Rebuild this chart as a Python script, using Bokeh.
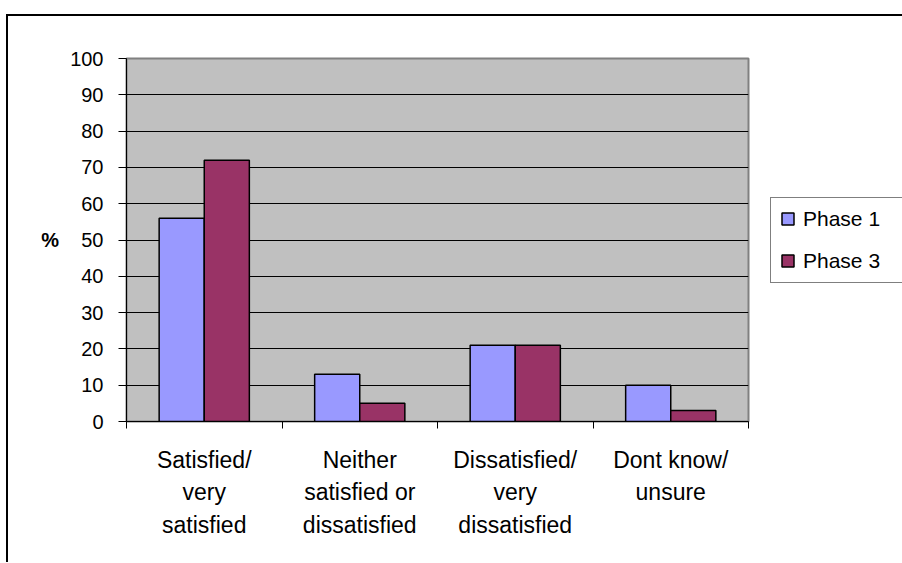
from bokeh.plotting import figure
from bokeh.models import ColumnDataSource, FixedTicker, Legend, LegendItem
from bokeh.transform import dodge
from bokeh.embed import file_html
from bokeh.resources import INLINE

# ---- data ----
categories = [
    "Satisfied/\nvery\nsatisfied",
    "Neither\nsatisfied or\ndissatisfied",
    "Dissatisfied/\nvery\ndissatisfied",
    "Dont know/\nunsure",
]
phase1 = [56, 13, 21, 10]
phase3 = [72, 5, 21, 3]
series_names = ["Phase 1", "Phase 3"]
y_ticks = [0, 10, 20, 30, 40, 50, 60, 70, 80, 90, 100]

FONT = "Liberation Sans"
centers = [i + 0.5 for i in range(len(categories))]
bounds = list(range(len(categories) + 1))
source = ColumnDataSource(dict(x=centers, p1=phase1, p3=phase3))

p = figure(
    frame_width=622, frame_height=363,
    x_range=(0, len(categories)), y_range=(0, 100),
    output_backend="svg", toolbar_location=None,
    min_border_left=118, min_border_right=146,
    min_border_top=42, min_border_bottom=141,
    background_fill_color="#C0C0C0", border_fill_color="white",
)
p.styles = {
    "margin-top": "14px",
    "margin-left": "6px",
    "border-top": "2px solid black",
    "border-left": "2px solid black",
}
p.outline_line_color = "#808080"
p.outline_line_width = 2

bw = 0.29
r1 = p.vbar(x=dodge("x", -bw / 2), top="p1", width=bw, source=source,
            fill_color="#9999FF", line_color="black", line_width=1.5)
r3 = p.vbar(x=dodge("x", bw / 2), top="p3", width=bw, source=source,
            fill_color="#993366", line_color="black", line_width=1.5)

# grid
p.xgrid.visible = False
p.ygrid.grid_line_color = "black"
p.ygrid.grid_line_width = 1

# y axis
p.yaxis.ticker = FixedTicker(ticks=y_ticks)
p.yaxis.major_tick_out = 8
p.yaxis.major_tick_in = 0
p.yaxis.minor_tick_line_color = None
p.yaxis.axis_line_color = "black"
p.yaxis.major_tick_line_color = "black"
p.yaxis.major_label_text_font = FONT
p.yaxis.major_label_text_font_size = "20px"
p.yaxis.major_label_text_color = "black"
p.yaxis.major_label_standoff = 15
p.yaxis.axis_label = "%"
p.yaxis.axis_label_orientation = "horizontal"
p.yaxis.axis_label_text_font = FONT
p.yaxis.axis_label_text_font_size = "20px"
p.yaxis.axis_label_text_font_style = "bold"
p.yaxis.axis_label_text_color = "black"
p.yaxis.axis_label_standoff = 8

# x axis: labels at centres, ticks at category boundaries
p.xaxis.ticker = FixedTicker(ticks=centers, minor_ticks=bounds)
p.xaxis.major_label_overrides = {c: lab for c, lab in zip(centers, categories)}
p.xaxis.major_tick_line_color = None
p.xaxis.minor_tick_line_color = "black"
p.xaxis.minor_tick_out = 7
p.xaxis.minor_tick_in = 0
p.xaxis.axis_line_color = "black"
p.xaxis.major_label_text_font = FONT
p.xaxis.major_label_text_font_size = "23px"
p.xaxis.major_label_text_color = "black"
p.xaxis.major_label_text_line_height = 1.25
p.xaxis.major_label_standoff = 18

legend = Legend(
    items=[LegendItem(label=series_names[0], renderers=[r1]),
           LegendItem(label=series_names[1], renderers=[r3])],
    location="center_left",
    border_line_color="black", border_line_width=1,
    background_fill_color="white", background_fill_alpha=1,
    label_text_font=FONT, label_text_font_size="21px", label_text_color="black",
    glyph_width=15, glyph_height=15, label_height=20, label_width=110,
    spacing=18, padding=9, margin=22, label_standoff=8,
)
p.add_layout(legend, "right")

open("out.html", "w").write(file_html(p, INLINE))
